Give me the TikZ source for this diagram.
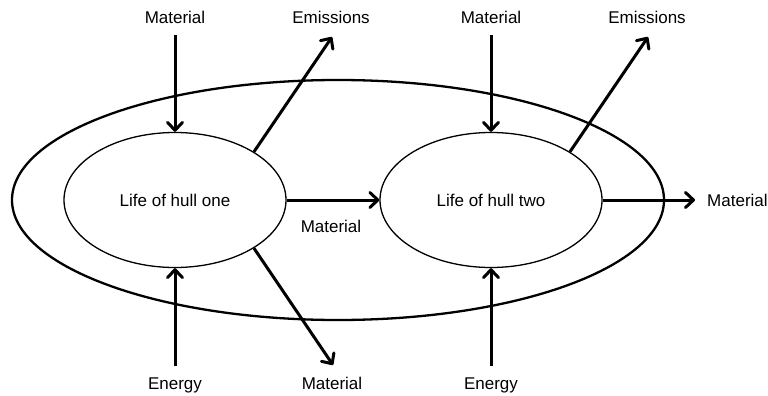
\documentclass[tikz,border=0pt]{standalone}
\usepackage{fontspec}
\setmainfont{Liberation Sans}
\usetikzlibrary{arrows.meta,shapes.geometric}
\begin{document}
\begin{tikzpicture}[x=1pt,y=-1pt,
  lbl/.style={inner sep=0pt,font=\fontsize{17}{20}\selectfont},
  hull/.style={ellipse,draw,line width=1.3pt,inner sep=0pt,minimum width=222pt,minimum height=135pt,font=\fontsize{17}{20}\selectfont},
  flow/.style={line width=3pt,-{Straight Barb[length=8pt,width=15pt,round]}}]
\useasboundingbox (0,0) rectangle (768,396);
% outer system boundary
\draw[line width=2.3pt] (338,200) ellipse [x radius=326pt, y radius=120pt];
% hulls
\node[hull] (h1) at (175,200) {Life of hull one};
\node[hull] (h2) at (491,200) {Life of hull two};
% labels
\node[lbl,anchor=base] (mt1) at (175,24) {Material};
\node[lbl,anchor=base] (em1) at (331,24) {Emissions};
\node[lbl,anchor=base] (mt2) at (491,24) {Material};
\node[lbl,anchor=base] (em2) at (647,24) {Emissions};
\node[lbl,anchor=base] (mm) at (331,232) {Material};
\node[lbl,anchor=west] (mo) at (707,200) {Material};
\node[lbl,anchor=base] (en1) at (175,389) {Energy};
\node[lbl,anchor=base] (mb) at (332,389) {Material};
\node[lbl,anchor=base] (en2) at (491,389) {Energy};
% arrow end coordinates
\coordinate (a1) at (175,35);
\coordinate (a2) at (491,35);
\coordinate (e1) at (332,37);
\coordinate (e2) at (648,37);
\coordinate (b1) at (175,366);
\coordinate (b2) at (491,366);
\coordinate (bm) at (333,365);
\coordinate (ro) at (695,200);
% flows
\draw[flow] (a1) -- (h1.north);
\draw[flow] (a2) -- (h2.north);
\draw[flow] (h1.north east) -- (e1);
\draw[flow] (h2.north east) -- (e2);
\draw[flow] (h1.east) -- (h2.west);
\draw[flow] (h2.east) -- (ro);
\draw[flow] (b1) -- (h1.south);
\draw[flow] (b2) -- (h2.south);
\draw[flow] (h1.south east) -- (bm);
\end{tikzpicture}
\end{document}
